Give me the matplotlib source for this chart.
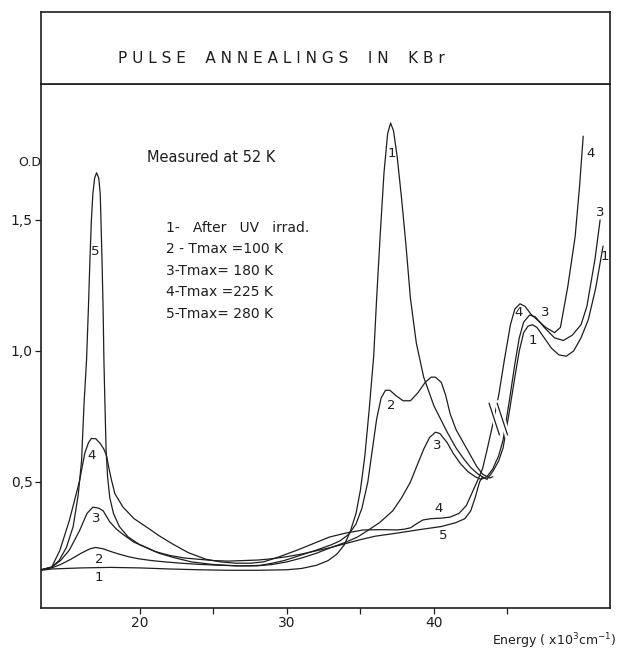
import matplotlib
matplotlib.use("Agg")
import matplotlib.pyplot as plt

plt.rcParams.update({'font.family': 'DejaVu Sans', 'font.size': 9})

INK = '#1e1e1e'

# energy in 10^3 cm^-1, optical density
c1_x = [13.3, 14.0, 16.0, 18.0, 20.0, 22.0, 24.0, 26.0, 28.0, 30.0, 31.0, 32.0, 32.8, 33.4,
        33.9, 34.3, 34.7, 35.0, 35.3, 35.6, 35.9, 36.1, 36.35, 36.6, 36.85, 37.05, 37.25,
        37.5, 37.8, 38.1, 38.4, 38.8, 39.3, 40.0, 40.9, 41.5, 42.0, 42.5, 43.0, 43.6, 44.0,
        44.4, 44.7, 45.1, 45.5, 45.8, 46.1, 46.4, 46.7, 47.0, 47.5, 48.0, 48.5, 49.0, 49.5,
        50.0, 50.5, 51.0, 51.5]
c1_y = [0.163, 0.168, 0.172, 0.174, 0.172, 0.168, 0.165, 0.163, 0.163, 0.165, 0.170, 0.182,
        0.200, 0.225, 0.260, 0.310, 0.380, 0.470, 0.600, 0.780, 0.980, 1.200, 1.450, 1.680,
        1.830, 1.870, 1.840, 1.740, 1.580, 1.400, 1.200, 1.030, 0.900, 0.790, 0.690, 0.630,
        0.590, 0.555, 0.530, 0.510, 0.540, 0.580, 0.630, 0.760, 0.900, 1.000, 1.070, 1.095,
        1.100, 1.090, 1.050, 1.010, 0.985, 0.980, 1.000, 1.050, 1.120, 1.240, 1.400]

c2_x = [13.3, 14.0, 14.6, 15.3, 16.0, 16.6, 17.0, 17.5, 18.0, 18.5, 19.2, 19.9, 20.8, 21.7,
        22.8, 23.9, 25.0, 26.6, 27.5, 28.2, 29.0, 29.8, 30.8, 32.0, 33.0, 33.6, 34.2, 34.7,
        35.1, 35.5, 35.8, 36.1, 36.4, 36.7, 37.0, 37.4, 37.9, 38.4, 38.9, 39.4, 39.8, 40.1,
        40.5, 40.8, 41.1, 41.5, 42.0, 42.5, 42.9, 43.3, 43.8, 44.0]
c2_y = [0.165, 0.172, 0.185, 0.205, 0.228, 0.245, 0.250, 0.245, 0.235, 0.226, 0.215, 0.207,
        0.200, 0.195, 0.190, 0.186, 0.183, 0.180, 0.180, 0.182, 0.190, 0.200, 0.218, 0.240,
        0.260, 0.275, 0.300, 0.340, 0.400, 0.500, 0.620, 0.740, 0.820, 0.850, 0.850, 0.830,
        0.810, 0.810, 0.840, 0.880, 0.900, 0.900, 0.880, 0.830, 0.760, 0.700, 0.650, 0.600,
        0.560, 0.530, 0.515, 0.520]

c3_x = [13.3, 14.0, 14.6, 15.2, 15.9, 16.4, 16.8, 17.2, 17.5, 17.96, 18.4, 18.85, 19.6, 20.45,
        21.3, 22.2, 23.5, 25.0, 26.5, 28.0, 29.0, 30.0, 31.0, 32.0, 33.0, 34.0, 34.8, 35.5,
        36.3, 37.2, 37.8, 38.4, 38.9, 39.3, 39.7, 40.1, 40.4, 40.9, 41.3, 41.8, 42.3, 42.8,
        43.2, 43.6, 44.0, 44.4, 44.7, 45.1, 45.5, 45.8, 46.1, 46.5, 46.9, 47.5, 48.2, 48.8,
        49.4, 50.0, 50.4, 50.95, 51.3]
c3_y = [0.165, 0.175, 0.200, 0.240, 0.315, 0.380, 0.404, 0.400, 0.390, 0.347, 0.320, 0.300,
        0.270, 0.250, 0.228, 0.213, 0.195, 0.185, 0.180, 0.180, 0.185, 0.195, 0.210, 0.228,
        0.250, 0.270, 0.290, 0.315, 0.345, 0.390, 0.440, 0.500, 0.570, 0.625, 0.670, 0.690,
        0.685, 0.650, 0.610, 0.570, 0.540, 0.520, 0.510, 0.520, 0.550, 0.600, 0.660, 0.800,
        0.950, 1.050, 1.110, 1.137, 1.130, 1.090, 1.050, 1.040, 1.060, 1.100, 1.170, 1.350,
        1.500]

c4_x = [13.3, 14.0, 14.56, 15.2, 15.6, 15.9, 16.25, 16.5, 16.7, 17.0, 17.3, 17.55, 17.73,
        17.9, 18.07, 18.3, 18.85, 19.6, 20.45, 21.3, 22.2, 23.3, 24.5, 25.5, 26.5, 27.5,
        28.4, 29.5, 30.7, 31.8, 32.9, 34.0, 35.2, 36.5, 37.5, 38.0, 38.4, 38.8, 39.25, 39.8,
        40.5, 41.1, 41.7, 42.2, 42.6, 43.0, 43.3, 43.6, 44.0, 44.4, 44.8, 45.2, 45.5, 45.85,
        46.2, 46.6, 47.0, 47.6, 48.2, 48.6, 49.1, 49.6, 49.9, 50.15]
c4_y = [0.165, 0.175, 0.240, 0.353, 0.440, 0.506, 0.610, 0.650, 0.666, 0.665, 0.647, 0.625,
        0.600, 0.550, 0.506, 0.455, 0.404, 0.360, 0.328, 0.295, 0.264, 0.230, 0.205, 0.195,
        0.190, 0.190, 0.195, 0.215, 0.240, 0.265, 0.290, 0.305, 0.317, 0.318, 0.317, 0.320,
        0.325, 0.340, 0.355, 0.360, 0.362, 0.366, 0.380, 0.410, 0.460, 0.510, 0.550, 0.620,
        0.720, 0.830, 0.970, 1.100, 1.160, 1.180, 1.170, 1.140, 1.120, 1.090, 1.070, 1.090,
        1.245, 1.436, 1.627, 1.820]

c5_x = [13.3, 14.0, 14.5, 15.0, 15.46, 15.8, 16.03, 16.2, 16.37, 16.5, 16.6, 16.7, 16.8,
        16.92, 17.05, 17.2, 17.3, 17.35, 17.42, 17.5, 17.55, 17.62, 17.7, 17.8, 17.95, 18.2,
        18.6, 19.2, 20.0, 21.0, 22.0, 23.0, 24.0, 25.0, 26.0, 27.0, 28.0, 29.0, 30.0, 31.0,
        31.8, 33.0, 33.8, 35.0, 36.0, 37.5, 39.0, 40.5, 41.5, 42.1, 42.5, 42.8, 43.1, 43.3]
c5_y = [0.165, 0.175, 0.200, 0.250, 0.330, 0.450, 0.580, 0.800, 0.966, 1.170, 1.350, 1.500,
        1.600, 1.660, 1.680, 1.660, 1.600, 1.500, 1.350, 1.150, 0.966, 0.800, 0.620, 0.520,
        0.440, 0.380, 0.330, 0.290, 0.260, 0.235, 0.220, 0.210, 0.205, 0.200, 0.198, 0.200,
        0.202, 0.207, 0.215, 0.225, 0.235, 0.250, 0.262, 0.280, 0.293, 0.305, 0.318, 0.330,
        0.345, 0.360, 0.390, 0.440, 0.500, 0.520]

curves = [(c1_x, c1_y), (c2_x, c2_y), (c3_x, c3_y), (c4_x, c4_y), (c5_x, c5_y)]

# curve number labels: (text, x, y)
curve_labels = [('5', 16.95, 1.38), ('4', 16.7, 0.60), ('3', 17.05, 0.36), ('2', 17.2, 0.205),
                ('1', 17.2, 0.135), ('1', 37.1, 1.755), ('2', 37.1, 0.79), ('3', 40.25, 0.64),
                ('4', 40.3, 0.40), ('5', 40.6, 0.295), ('4', 45.75, 1.145), ('3', 47.55, 1.145),
                ('1', 46.7, 1.04), ('4', 50.65, 1.755), ('3', 51.3, 1.53), ('1', 51.65, 1.36)]

legend_lines = ['1-   After   UV   irrad.', '2 - Tmax =100 K', '3-Tmax= 180 K',
                '4-Tmax =225 K', '5-Tmax= 280 K']

fig = plt.figure(figsize=(6.18, 6.53), dpi=100)
ax = fig.add_axes([0.0663, 0.0689, 0.9207, 0.8025])
tax = fig.add_axes([0.0663, 0.8714, 0.9207, 0.1103])

for xs, ys in curves:
    ax.plot(xs, ys, color=INK, lw=0.9, solid_capstyle='round')

for t, x, y in curve_labels:
    ax.text(x, y, t, ha='center', va='center', fontsize=9.5, color=INK)

# axis break marks on the rising branches
for dx in (0.0, 0.55):
    ax.plot([43.75 + dx, 44.45 + dx], [0.80, 0.68], color='white', lw=4, zorder=3)
    ax.plot([43.75 + dx, 44.45 + dx], [0.80, 0.68], color=INK, lw=0.9, zorder=4)

ax.set_xlim(13.27, 51.97)
ax.set_ylim(0.019, 2.019)

ax.set_xticks([20, 25, 30, 35, 40, 45])
ax.set_xticklabels(['20', '', '30', '', '40', ''])
ax.set_yticks([0.5, 1.0, 1.5])
ax.set_yticklabels(['0,5', '1,0', '1,5'])
ax.tick_params(direction='out', length=4, width=0.9, colors=INK, labelsize=10, pad=2)
for s in ax.spines.values():
    s.set_linewidth(1.2)
    s.set_color(INK)

ax.text(-0.04, 1.72, 'O.D', transform=ax.get_yaxis_transform(), fontsize=9,
        color=INK, ha='left', va='center')
ax.text(20.5, 1.74, 'Measured at 52 K', fontsize=10.5, color=INK, ha='left', va='center')
for i, line in enumerate(legend_lines):
    ax.text(21.8, 1.47 - i * 0.082, line, fontsize=10, color=INK, ha='left', va='center')

ax.text(1.012, -0.063, 'Energy ( x10$^3$cm$^{-1}$)', transform=ax.transAxes, fontsize=9,
        color=INK, ha='right', va='center')

tax.set_xticks([])
tax.set_yticks([])
for s in tax.spines.values():
    s.set_linewidth(1.2)
    s.set_color(INK)
tax.text(0.135, 0.36, 'P U L S E    A N N E A L I N G S    I N    K B r', transform=tax.transAxes,
         fontsize=11, color=INK, ha='left', va='center')

fig.savefig('out.png', dpi=100, facecolor='white')
